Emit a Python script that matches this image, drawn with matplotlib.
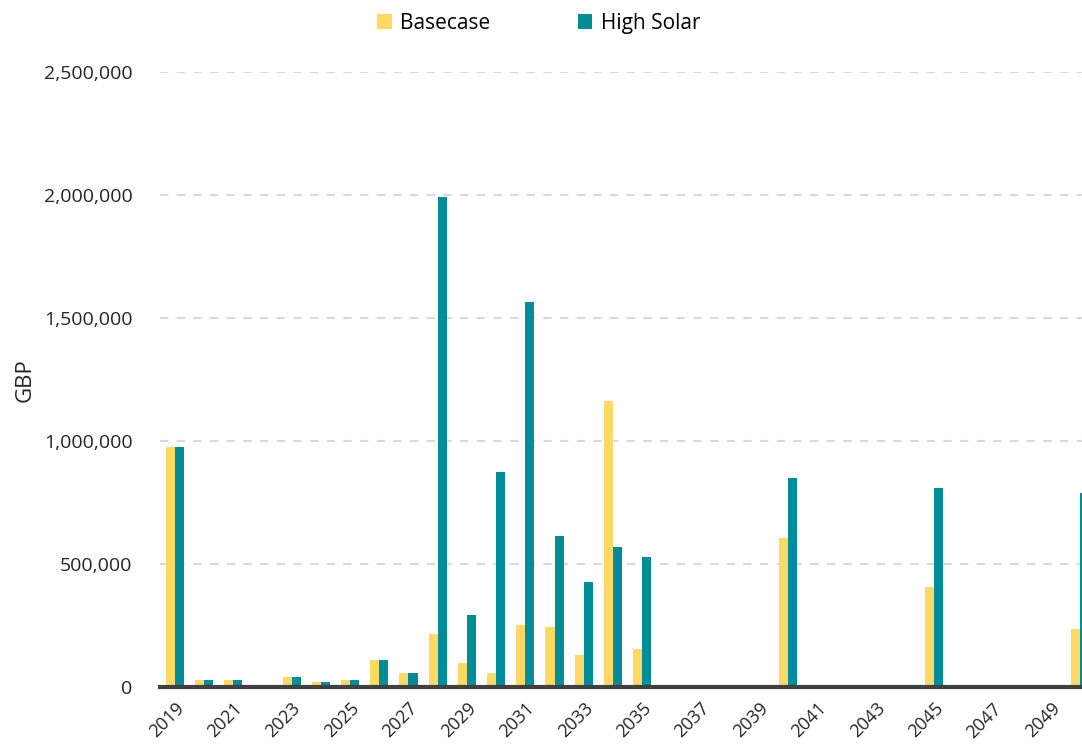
import matplotlib.pyplot as plt
import numpy as np
from matplotlib.ticker import FuncFormatter

plt.rcParams['font.family'] = ['Open Sans', 'DejaVu Sans']

# Data
years = list(range(2019, 2051))
basecase = [975000, 28000, 28000, 0, 41000, 20000, 28000, 110000, 57000, 215000,
            98000, 57000, 252000, 244000, 130000, 1163000, 154000, 0, 0, 0,
            0, 606000, 0, 0, 0, 0, 407000, 0, 0, 0, 0, 236000]
high_solar = [975000, 28000, 28000, 0, 41000, 20000, 28000, 110000, 57000, 1992000,
              293000, 874000, 1565000, 614000, 427000, 569000, 528000, 0, 0, 0,
              0, 850000, 0, 0, 0, 0, 809000, 0, 0, 0, 0, 789000]

yellow = '#FFD966'
teal = '#008C99'

fig = plt.figure(figsize=(10.82, 7.47), dpi=100)
ax = fig.add_axes([0.148, 0.0803, 0.864, 0.823])

x = np.arange(len(years))
w = 0.31
ax.bar(x - w / 2, basecase, width=w, color=yellow, label='Basecase', zorder=3)
ax.bar(x + w / 2, high_solar, width=w, color=teal, label='High Solar', zorder=3)

ax.set_xlim(-0.5, len(years) - 0.5)
ax.set_ylim(0, 2500000)
ax.set_yticks(np.arange(0, 2500001, 500000))
ax.yaxis.set_major_formatter(FuncFormatter(lambda v, p: f'{int(v):,}'))
ax.grid(axis='y', color='#D9D9D9', linestyle=(0, (4, 4)), linewidth=1.5, zorder=0)

ax.set_xticks(x[::2])
ax.set_xticklabels([str(y) for y in years[::2]], rotation=45, ha='right',
                   rotation_mode='anchor')

for s in ['top', 'right', 'left']:
    ax.spines[s].set_visible(False)
ax.spines['bottom'].set_color('#404040')
ax.spines['bottom'].set_linewidth(3)
ax.spines['bottom'].set_zorder(4)

ax.tick_params(axis='y', length=0, pad=20, labelsize=14, labelcolor='#252525')
ax.tick_params(axis='x', length=0, pad=9, labelsize=13, labelcolor='#252525')
ax.set_ylabel('GBP', fontsize=16, color='#252525', labelpad=6)

ax.legend(loc='upper center', bbox_to_anchor=(0.405, 1.127), ncol=2, frameon=False,
          fontsize=15, handlelength=0.7, handleheight=0.7, columnspacing=4.2,
          handletextpad=0.4)

fig.savefig('out.png', dpi=100)
